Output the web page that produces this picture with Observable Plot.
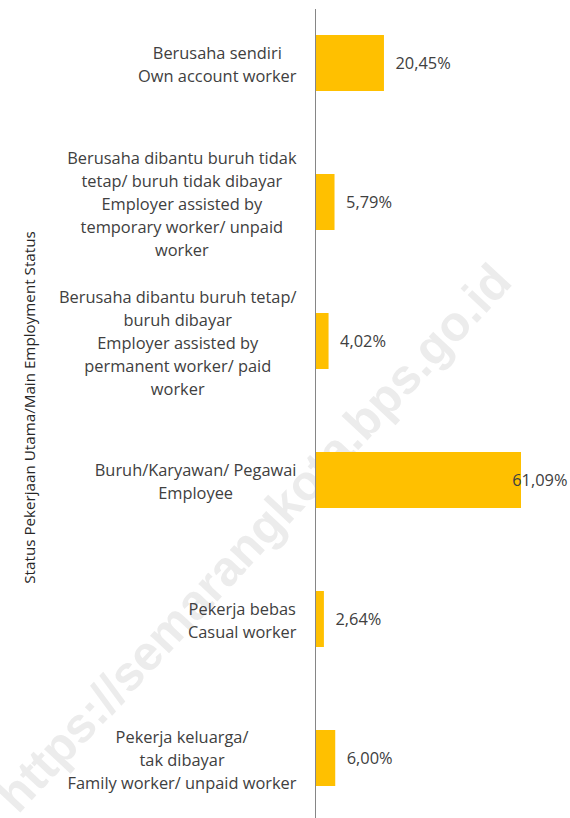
<!DOCTYPE html>
<html><head><meta charset="utf-8">
<script src="https://cdn.jsdelivr.net/npm/d3@7"></script>
<script src="https://cdn.jsdelivr.net/npm/@observablehq/plot@0.6"></script>
<style>body{margin:0;background:#fff} svg{display:block}</style>
</head><body><div id="chart"></div>
<script>
const categories = [
  "Berusaha sendiri\nOwn account worker",
  "Berusaha dibantu buruh tidak\ntetap/ buruh tidak dibayar\nEmployer assisted by\ntemporary worker/ unpaid\nworker",
  "Berusaha dibantu buruh tetap/\nburuh dibayar\nEmployer assisted by\npermanent worker/ paid\nworker",
  "Buruh/Karyawan/ Pegawai\nEmployee",
  "Pekerja bebas\nCasual worker",
  "Pekerja keluarga/\ntak dibayar\nFamily worker/ unpaid worker"
];
const values = [20.45, 5.79, 4.02, 61.09, 2.64, 6.00];
const axisTitle = "Status Pekerjaan Utama/Main Employment Status";
const watermark = "https://semarangkota.bps.go.id";

const FONT = "Open Sans";
const FS = 16.4;
const W = 570, H = 818;
const x0 = 315, xEnd = 521;
const xMax = d3.max(values);
const k = (xEnd - x0) / xMax;
const ctx = document.createElement("canvas").getContext("2d");
ctx.font = `${FS}px "${FONT}"`;
const measure = s => ctx.measureText(s).width;

const data = categories.map((c, i) => ({cat: c, value: values[i], label: values[i].toFixed(2).replace(".", ",") + "%"}));
data.forEach(d => {
  d.w = d3.max(d.cat.split("\n"), measure);
  d.lx = -(19 + d.w / 2) / k;
  const lw = measure(d.label);
  d.vx = Math.min(d.value * k + 11, W - 3 - x0 - lw) / k;
});

const chart = Plot.plot({
  width: W, height: H,
  marginLeft: x0, marginRight: W - xEnd, marginTop: 9, marginBottom: 0,
  style: {fontFamily: FONT, background: "#fff"},
  x: {domain: [0, xMax], axis: null},
  y: {domain: categories, range: [-9, 830], paddingInner: 0.6, paddingOuter: 0.3, axis: null},
  marks: [
    Plot.text([watermark], {frameAnchor: "middle", text: d => d, dx: 254 - (x0 + xEnd) / 2, dy: 538 - (9 + H) / 2, rotate: -47, fontSize: 49, fontWeight: "bold", fill: "#ececec", fontFamily: "Liberation Sans"}),
    Plot.barX(data, {x: "value", y: "cat", fill: "#FFC000"}),
    Plot.ruleX([0], {stroke: "#868686", strokeWidth: 1}),
    Plot.text(data, {x: "lx", y: "cat", text: "cat", textAnchor: "middle", lineAnchor: "middle", lineHeight: 1.4, fontSize: FS, fill: "#404040"}),
    Plot.text(data, {x: "vx", y: "cat", text: "label", textAnchor: "start", fontSize: FS, fill: "#404040"}),
    Plot.text([axisTitle], {frameAnchor: "left", text: d => d, textAnchor: "middle", rotate: -90, dx: 30 - x0, dy: 407 - (9 + H) / 2, fontSize: 15.2, fill: "#262626"})
  ]
});
document.getElementById("chart").append(chart);
</script>
</body></html>
